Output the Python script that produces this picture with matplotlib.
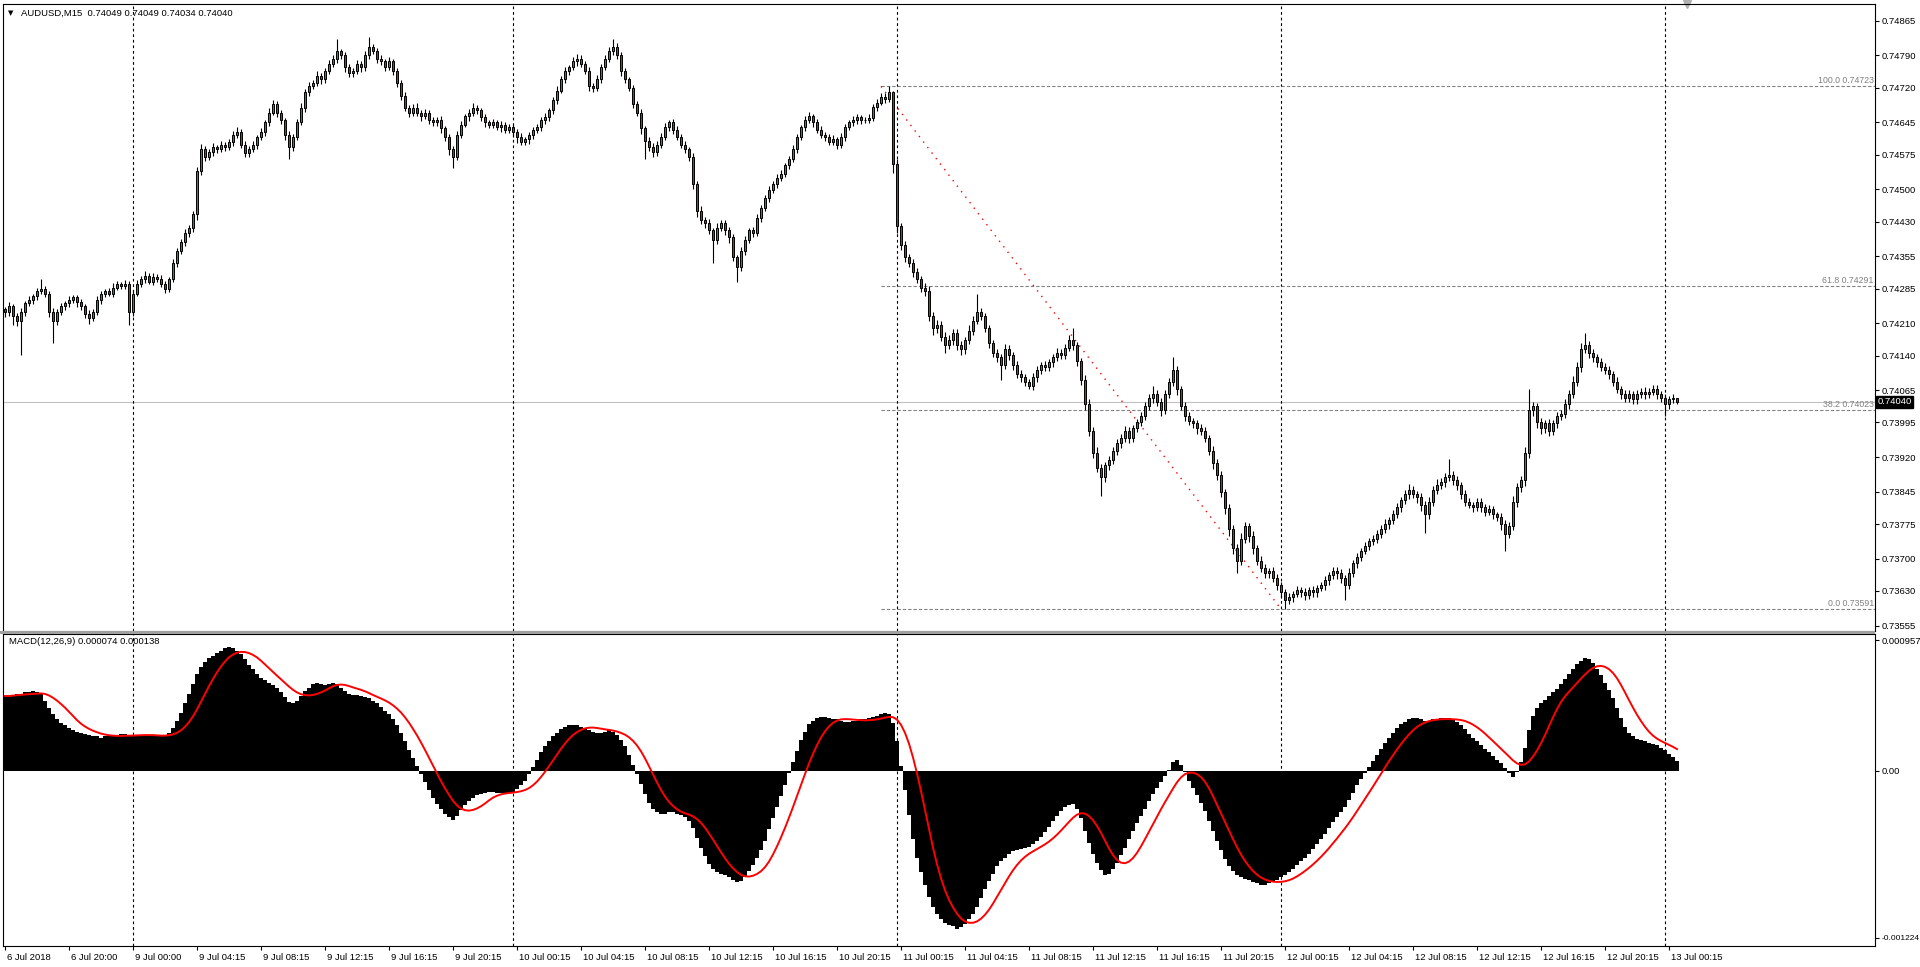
import numpy as np
import pandas as pd
import matplotlib
matplotlib.use("Agg")
import matplotlib.pyplot as plt
import matplotlib.transforms as mtransforms
from matplotlib.patches import Rectangle

plt.rcParams['font.family'] = ['Liberation Sans', 'DejaVu Sans']

# ---------------- data (prices in points = 1e-5) ----------------
symbol_title = "AUDUSD,M15  0.74049 0.74049 0.74034 0.74040"
macd_title = "MACD(12,26,9) 0.000074 0.000138"
first_open_pts = 74240

close_pts = [
    74234, 74247, 74226, 74215, 74234, 74253, 74260, 74268, 74279, 74284,
    74274, 74234, 74215, 74234, 74247, 74253, 74260, 74266, 74255, 74247,
    74231, 74221, 74234, 74260, 74274, 74279, 74274, 74287, 74295, 74290,
    74295, 74234, 74274, 74295, 74306, 74313, 74300, 74311, 74306, 74295,
    74284, 74306, 74340, 74366, 74385, 74406, 74417, 74446, 74539, 74587,
    74571, 74581, 74592, 74587, 74597, 74592, 74603, 74618, 74624, 74597,
    74579, 74587, 74597, 74613, 74624, 74645, 74666, 74685, 74666, 74650,
    74618, 74592, 74613, 74645, 74677, 74711, 74724, 74730, 74746, 74738,
    74756, 74772, 74783, 74799, 74791, 74764, 74751, 74756, 74772, 74764,
    74791, 74809, 74799, 74783, 74777, 74764, 74777, 74756, 74730, 74703,
    74677, 74666, 74677, 74666, 74658, 74666, 74650, 74645, 74650, 74632,
    74613, 74587, 74571, 74618, 74640, 74658, 74666, 74677, 74671, 74656,
    74645, 74640, 74645, 74634, 74640, 74629, 74634, 74624, 74613, 74603,
    74608, 74618, 74629, 74634, 74650, 74656, 74671, 74693, 74714, 74738,
    74756, 74764, 74777, 74783, 74772, 74756, 74724, 74719, 74738, 74764,
    74783, 74799, 74809, 74791, 74756, 74738, 74719, 74685, 74666, 74632,
    74605, 74592, 74581, 74597, 74613, 74634, 74645, 74629, 74613, 74597,
    74587, 74571, 74512, 74454, 74433, 74427, 74411, 74390, 74417, 74427,
    74411, 74396, 74353, 74332, 74366, 74390, 74411, 74406, 74438, 74459,
    74481, 74499, 74512, 74525, 74534, 74552, 74565, 74587, 74613, 74634,
    74650, 74658, 74645, 74629, 74618, 74613, 74603, 74608, 74597, 74613,
    74634, 74645, 74650, 74656, 74650, 74650, 74655, 74678, 74688, 74700,
    74695, 74710, 74555, 74420, 74380, 74353, 74340, 74321, 74306, 74287,
    74279, 74226, 74199, 74207, 74181, 74162, 74173, 74189, 74162, 74154,
    74173, 74194, 74215, 74234, 74226, 74199, 74168, 74146, 74136, 74120,
    74154, 74141, 74120, 74101, 74093, 74083, 74075, 74093, 74109, 74120,
    74115, 74125, 74136, 74146, 74141, 74157, 74173, 74162, 74128, 74088,
    74035, 73977, 73929, 73897, 73876, 73902, 73913, 73934, 73950, 73961,
    73977, 73961, 73982, 73995, 74009, 74030, 74048, 74056, 74040, 74022,
    74056, 74083, 74109, 74067, 74030, 74009, 73998, 73993, 73982, 73977,
    73961, 73934, 73907, 73881, 73844, 73809, 73764, 73722, 73696, 73743,
    73770, 73749, 73722, 73696, 73680, 73669, 73674, 73658, 73642, 73627,
    73611, 73616, 73624, 73632, 73627, 73621, 73632, 73627, 73637, 73642,
    73653, 73664, 73674, 73669, 73658, 73642, 73669, 73690, 73704, 73717,
    73727, 73738, 73743, 73754, 73764, 73775, 73783, 73796, 73812, 73828,
    73839, 73849, 73839, 73833, 73817, 73796, 73823, 73849, 73860, 73865,
    73876, 73881, 73870, 73860, 73839, 73823, 73817, 73812, 73823, 73812,
    73802, 73807, 73796, 73791, 73775, 73754, 73770, 73823, 73855, 73870,
    73929, 74022, 74030, 73995, 73982, 73993, 73977, 73993, 74009, 74014,
    74035, 74056, 74083, 74115, 74154, 74162, 74146, 74136, 74125, 74115,
    74109, 74099, 74083, 74067, 74056, 74048, 74056, 74046, 74056, 74062,
    74056, 74062, 74067, 74056, 74048, 74035, 74046, 74049, 74040,
]

up_wick_pts = [
    6, 8, 5, 7, 9, 6, 8, 5, 7, 22, 6, 5, 8, 6, 7, 5, 9, 6, 5, 7,
    5, 7, 6, 8, 5, 6, 7, 9, 6, 5, 8, 6, 7, 9, 6, 10, 5, 7, 6, 8,
    6, 5, 8, 6, 7, 9, 6, 8, 10, 12, 7, 6, 9, 5, 8, 6, 7, 9, 12, 6,
    8, 6, 7, 5, 9, 6, 10, 8, 7, 6, 5, 8, 6, 7, 9, 6, 8, 7, 10, 6,
    7, 9, 8, 26, 6, 7, 8, 6, 9, 7, 8, 21, 6, 7, 8, 6, 9, 5, 7, 6,
    8, 6, 7, 9, 5, 8, 6, 7, 6, 8, 5, 7, 6, 9, 8, 6, 7, 10, 6, 5,
    7, 6, 8, 5, 7, 6, 8, 7, 6, 9, 5, 7, 6, 8, 7, 9, 6, 8, 10, 7,
    8, 6, 9, 10, 7, 6, 8, 7, 9, 8, 7, 9, 16, 8, 6, 7, 5, 8, 6, 7,
    6, 8, 9, 7, 8, 10, 6, 7, 8, 6, 7, 5, 8, 6, 9, 7, 8, 6, 10, 7,
    6, 8, 7, 5, 9, 8, 6, 7, 8, 6, 7, 9, 6, 8, 7, 6, 8, 9, 7, 6,
    8, 10, 6, 7, 8, 6, 7, 9, 6, 8, 7, 6, 8, 7, 6, 7, 8, 6, 7, 8,
    9, 13, 3, 10, 8, 9, 7, 10, 8, 6, 9, 12, 8, 10, 7, 9, 12, 8, 9, 10,
    8, 12, 10, 40, 9, 7, 8, 6, 9, 7, 10, 8, 6, 9, 7, 8, 6, 10, 8, 7,
    9, 8, 7, 10, 8, 9, 12, 26, 8, 7, 9, 10, 8, 12, 9, 8, 10, 7, 9, 8,
    10, 9, 8, 7, 9, 10, 8, 19, 9, 8, 10, 9, 27, 8, 7, 9, 8, 6, 7, 9,
    8, 7, 10, 9, 8, 7, 9, 8, 10, 12, 9, 8, 10, 7, 9, 8, 6, 9, 8, 7,
    8, 9, 7, 8, 6, 9, 7, 8, 6, 7, 9, 8, 7, 9, 8, 6, 10, 8, 9, 7,
    8, 6, 9, 7, 8, 10, 7, 9, 8, 6, 9, 12, 8, 7, 9, 8, 10, 8, 12, 10,
    9, 35, 8, 10, 7, 9, 8, 6, 9, 8, 7, 9, 8, 6, 8, 9, 10, 12, 8, 10,
    12, 45, 10, 8, 9, 7, 10, 8, 9, 8, 10, 9, 12, 10, 14, 27, 10, 9, 8, 10,
    8, 9, 7, 10, 8, 9, 10, 8, 9, 7, 10, 8, 9, 10, 8, 9, 6, 8, 0,
]

dn_wick_pts = [
    10, 8, 20, 12, 74, 8, 6, 9, 7, 5, 8, 10, 47, 9, 6, 8, 7, 6, 9, 8,
    9, 12, 7, 6, 8, 7, 6, 8, 5, 7, 6, 27, 8, 6, 7, 9, 6, 8, 7, 6,
    8, 7, 6, 9, 7, 8, 10, 9, 12, 8, 10, 7, 8, 9, 7, 8, 6, 9, 7, 8,
    10, 8, 7, 9, 6, 8, 7, 6, 9, 8, 12, 27, 8, 7, 6, 9, 8, 7, 6, 9,
    8, 7, 6, 9, 8, 10, 7, 8, 6, 9, 7, 8, 6, 9, 8, 7, 6, 8, 9, 10,
    8, 9, 7, 8, 10, 6, 9, 8, 7, 10, 9, 12, 24, 8, 7, 6, 9, 8, 7, 8,
    9, 7, 8, 6, 9, 8, 7, 10, 12, 8, 7, 9, 8, 6, 7, 8, 9, 7, 8, 6,
    7, 8, 6, 9, 8, 7, 10, 9, 7, 8, 6, 7, 8, 9, 10, 8, 7, 9, 8, 12,
    40, 9, 10, 8, 7, 6, 8, 9, 7, 8, 9, 10, 12, 14, 9, 10, 8, 50, 9, 8,
    10, 12, 9, 32, 8, 9, 7, 10, 8, 9, 7, 8, 6, 9, 8, 7, 8, 6, 9, 7,
    8, 7, 9, 8, 6, 9, 7, 8, 10, 7, 8, 6, 7, 9, 8, 7, 6, 7, 8, 6,
    7, 6, 19, 14, 12, 10, 9, 11, 8, 10, 9, 12, 14, 10, 9, 16, 8, 10, 9, 12,
    10, 8, 9, 7, 10, 9, 12, 10, 11, 32, 9, 10, 12, 9, 11, 10, 8, 9, 10, 8,
    9, 8, 10, 7, 9, 8, 7, 9, 10, 12, 14, 12, 11, 10, 40, 9, 10, 8, 9, 10,
    8, 10, 9, 8, 7, 9, 8, 10, 9, 12, 8, 9, 10, 12, 9, 10, 8, 9, 11, 10,
    9, 10, 12, 11, 10, 12, 14, 11, 27, 9, 10, 12, 11, 10, 9, 11, 10, 9, 10, 12,
    19, 9, 10, 8, 9, 11, 8, 10, 9, 8, 10, 9, 8, 12, 10, 31, 8, 9, 10, 8,
    7, 9, 8, 10, 9, 8, 10, 9, 8, 11, 9, 10, 8, 12, 14, 40, 10, 9, 8, 10,
    9, 8, 10, 12, 9, 10, 8, 11, 9, 10, 9, 8, 10, 9, 12, 37, 10, 9, 11, 10,
    12, 10, 14, 11, 12, 10, 11, 9, 10, 8, 9, 10, 8, 9, 10, 9, 11, 10, 9, 8,
    9, 10, 8, 9, 10, 8, 9, 11, 10, 9, 10, 9, 8, 10, 9, 26, 10, 9, 6,
]

# MACD main line (units of 1e-6)
macd_e6 = [
    547, 547, 556, 564, 564, 573, 573, 582, 573, 564,
    511, 457, 412, 376, 349, 332, 314, 296, 287, 278,
    269, 260, 251, 251, 242, 251, 251, 260, 260, 269,
    269, 260, 251, 260, 260, 260, 260, 260, 251, 251,
    260, 278, 314, 367, 421, 493, 564, 636, 708, 762,
    797, 824, 842, 860, 878, 896, 905, 896, 878, 851,
    815, 771, 744, 708, 681, 663, 645, 627, 609, 573,
    538, 502, 493, 511, 547, 582, 609, 636, 645, 636,
    627, 636, 645, 636, 609, 582, 564, 556, 556, 547,
    538, 529, 511, 493, 466, 439, 412, 376, 332, 278,
    215, 152, 90, 36, -27, -81, -143, -197, -242, -278,
    -314, -341, -358, -332, -287, -251, -224, -197, -179, -170,
    -161, -152, -152, -161, -161, -170, -161, -152, -134, -108,
    -72, -27, 27, 81, 134, 179, 215, 251, 278, 305,
    323, 332, 332, 332, 323, 314, 296, 287, 278, 278,
    287, 296, 287, 260, 224, 179, 116, 45, -27, -99,
    -170, -233, -278, -305, -314, -314, -305, -305, -314, -323,
    -341, -367, -421, -493, -564, -627, -681, -717, -744, -753,
    -762, -780, -797, -815, -806, -780, -735, -690, -636, -582,
    -511, -430, -349, -269, -188, -108, -18, 63, 143, 224,
    287, 341, 367, 385, 394, 394, 385, 376, 376, 367,
    358, 358, 367, 367, 376, 376, 385, 394, 403, 412,
    421, 412, 349, 215, 36, -143, -323, -502, -636, -744,
    -833, -923, -995, -1048, -1084, -1111, -1129, -1138, -1156, -1147,
    -1120, -1084, -1048, -995, -932, -869, -806, -753, -699, -663,
    -636, -609, -591, -582, -573, -564, -556, -538, -511, -484,
    -448, -412, -367, -332, -296, -269, -251, -242, -278, -349,
    -439, -529, -609, -672, -726, -762, -753, -717, -672, -618,
    -564, -502, -439, -385, -332, -278, -224, -170, -125, -81,
    -36, 9, 63, 81, 45, -9, -72, -125, -179, -233,
    -296, -367, -439, -511, -582, -645, -699, -735, -762, -780,
    -789, -797, -815, -824, -833, -833, -824, -815, -797, -780,
    -762, -744, -717, -690, -663, -636, -609, -573, -538, -502,
    -466, -421, -376, -341, -305, -269, -215, -161, -108, -63,
    -18, 27, 72, 116, 161, 206, 242, 278, 314, 341,
    358, 376, 385, 385, 376, 367, 367, 376, 376, 385,
    385, 385, 376, 358, 332, 305, 269, 242, 215, 188,
    161, 134, 108, 81, 54, 18, -18, -45, -9, 63,
    170, 296, 403, 457, 493, 520, 547, 573, 600, 636,
    672, 708, 744, 780, 806, 824, 815, 788, 744, 699,
    645, 591, 529, 457, 385, 323, 278, 251, 233, 224,
    215, 206, 197, 188, 170, 150, 125, 100, 74,
]

price_ticks = [0.74865, 0.74790, 0.74720, 0.74645, 0.74575, 0.74500, 0.74430,
               0.74355, 0.74285, 0.74210, 0.74140, 0.74065, 0.73995, 0.73920,
               0.73845, 0.73775, 0.73700, 0.73630, 0.73555]
macd_ticks = [0.000957, 0.0, -0.001224]
macd_tick_labels = ["0.000957", "0.00", "-0.001224"]

time_labels = ["6 Jul 2018", "6 Jul 20:00", "9 Jul 00:00", "9 Jul 04:15", "9 Jul 08:15",
               "9 Jul 12:15", "9 Jul 16:15", "9 Jul 20:15", "10 Jul 00:15", "10 Jul 04:15",
               "10 Jul 08:15", "10 Jul 12:15", "10 Jul 16:15", "10 Jul 20:15", "11 Jul 00:15",
               "11 Jul 04:15", "11 Jul 08:15", "11 Jul 12:15", "11 Jul 16:15", "11 Jul 20:15",
               "12 Jul 00:15", "12 Jul 04:15", "12 Jul 08:15", "12 Jul 12:15", "12 Jul 16:15",
               "12 Jul 20:15", "13 Jul 00:15"]
time_label_bars = [0, 16, 32, 48, 64, 80, 96, 112, 128, 144, 160, 176, 192, 208, 224,
                   240, 256, 272, 288, 304, 320, 336, 352, 368, 384, 400, 416]
day_sep_bars = [32, 127, 223, 319, 415]

fib_levels = [100.0, 61.8, 38.2, 0.0]
fib_prices = [0.74723, 0.74291, 0.74023, 0.73591]
fib_start_bar = 219
fib_end_bar = 319
current_price = 0.74040

# ---------------- derived series ----------------
close = np.array(close_pts) / 1e5
open_ = np.array([first_open_pts] + close_pts[:-1]) / 1e5
high = np.maximum(open_, close) + np.array(up_wick_pts) / 1e5
low = np.minimum(open_, close) - np.array(dn_wick_pts) / 1e5
macd = np.array(macd_e6) * 1e-6
signal = pd.Series(macd).rolling(9, min_periods=1).mean().values
x = np.arange(len(close))

# ---------------- figure ----------------
W, H = 1920, 967
fig = plt.figure(figsize=(W / 100, H / 100), dpi=100)
fig.patch.set_facecolor('white')

ax1 = fig.add_axes([3 / W, 1 - 631 / H, 1872 / W, 627 / H])
ax2 = fig.add_axes([3 / W, 1 - 946 / H, 1872 / W, 312 / H])

XL = (-0.5, 467.5)
fs = 6.8

# separator band between panels
fig.patches.append(Rectangle((0, 1 - 634 / H), 1875 / W, 3 / H, transform=fig.transFigure,
                             facecolor='#a0a0a0', edgecolor='none'))

# ---- main price panel ----
ax1.set_xlim(*XL)
ax1.set_ylim(0.735433, 0.749014)
ax1.axhline(current_price, color='#c0c0c0', lw=0.8, zorder=0.5)

for b in day_sep_bars:
    ax1.axvline(b, color='black', lw=0.8, ls=(0, (2.5, 2.5)), zorder=0.6)
    ax2.axvline(b, color='black', lw=0.8, ls=(0, (2.5, 2.5)), zorder=0.6)

ax1.hlines(fib_prices, fib_start_bar, XL[1], colors='#808080', lw=0.8,
           linestyles=(0, (3, 1.8)), zorder=0.7)
for lvl, p in zip(fib_levels, fib_prices):
    ax1.text(XL[1] - 0.3, p + 0.00002, f"{lvl:.1f} {p:.5f}", ha='right', va='bottom',
             color='#808080', fontsize=6.3)
ax1.plot([fib_start_bar, fib_end_bar], [fib_prices[0], fib_prices[-1]], color='red',
         lw=1.0, ls=(0, (1, 4)), zorder=0.8)

bull = close >= open_
ax1.vlines(x, low, high, color='black', lw=0.8, zorder=2)
body_h = np.maximum(np.abs(close - open_), 0.000005)
body_b = np.minimum(open_, close)
ax1.bar(x[bull], body_h[bull], bottom=body_b[bull], width=0.66, color='#2e8b57',
        edgecolor='black', linewidth=0.7, zorder=3)
ax1.bar(x[~bull], body_h[~bull], bottom=body_b[~bull], width=0.66, color='#dc143c',
        edgecolor='black', linewidth=0.7, zorder=3)

ax1.yaxis.tick_right()
ax1.set_yticks(price_ticks)
ax1.set_yticklabels([f"{v:.5f}" for v in price_ticks])
ax1.tick_params(axis='y', direction='out', length=3, width=0.8, pad=2, labelsize=fs,
                colors='black')
ax1.set_xticks([])

# current price box
ax1.text(XL[1] + 0.6, current_price, f"{current_price:.5f}", ha='left', va='center',
         color='white', fontsize=fs, clip_on=False, zorder=10,
         bbox=dict(boxstyle='square,pad=0.15', facecolor='black', edgecolor='black'))

# chart-shift marker
ax1.plot([420.5], [1.0], marker='v', color='#b0b0b0', markersize=6,
         transform=mtransforms.blended_transform_factory(ax1.transData, ax1.transAxes),
         clip_on=False)

# ---- MACD panel ----
ax2.set_xlim(*XL)
ax2.set_ylim(-0.001283, 0.001001)
ax2.bar(x, macd, width=1.0, color='black', linewidth=0, antialiased=False, zorder=2)
ax2.plot(x, signal, color='red', lw=1.4, zorder=3)

ax2.yaxis.tick_right()
ax2.set_yticks(macd_ticks)
ax2.set_yticklabels(macd_tick_labels)
ax2.tick_params(axis='y', direction='out', length=3, width=0.8, pad=2, labelsize=fs,
                colors='black')
ax2.get_yticklabels()[-1].set_fontsize(6.0)
ax2.set_xticks(time_label_bars)
ax2.set_xticklabels(time_labels)
ax2.tick_params(axis='x', direction='out', length=3, width=0.8, pad=2, labelsize=fs,
                colors='black')
offset = mtransforms.ScaledTranslation(2 / 100, 0, fig.dpi_scale_trans)
for lab in ax2.get_xticklabels():
    lab.set_horizontalalignment('left')
    lab.set_transform(lab.get_transform() + offset)

for ax in (ax1, ax2):
    for s in ax.spines.values():
        s.set_color('black')
        s.set_linewidth(0.8)
    ax.set_facecolor('white')

# titles
fig.text(8 / W, 1 - 13 / H, '\u25bc', fontsize=5, va='center', ha='left', color='black',
         family=['DejaVu Sans'])
fig.text(21 / W, 1 - 13 / H, symbol_title, fontsize=fs, va='center', ha='left', color='black')
fig.text(9 / W, 1 - 641 / H, macd_title, fontsize=fs, va='center', ha='left', color='black')

fig.savefig('out.png', dpi=100, facecolor='white')
